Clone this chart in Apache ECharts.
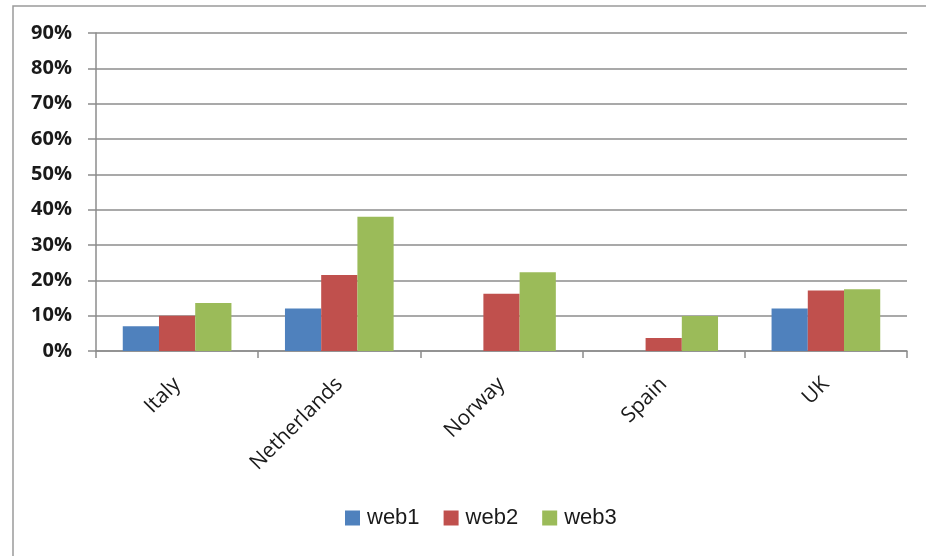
<!DOCTYPE html>
<html>
<head>
<meta charset="utf-8">
<script src="https://cdn.jsdelivr.net/npm/echarts@6/dist/echarts.min.js"></script>
<style>
  html, body { margin: 0; padding: 0; background: #fff; }
  #chart { width: 926px; height: 556px; }
</style>
</head>
<body>
<div id="chart"></div>
<script>
// Share of usage per country, in percent
const countries = ['Italy', 'Netherlands', 'Norway', 'Spain', 'UK'];
const web1 = [7.0, 12.0, 0, 0, 12.0];
const web2 = [10.0, 21.5, 16.2, 3.7, 17.1];
const web3 = [13.6, 38.0, 22.3, 9.9, 17.5];
const seriesNames = ['web1', 'web2', 'web3'];
const seriesColors = ['#4F81BD', '#C0504D', '#9BBB59'];

const chart = echarts.init(document.getElementById('chart'), null, { renderer: 'canvas' });

const values = [web1, web2, web3];

chart.setOption({
  animation: false,
  backgroundColor: '#ffffff',
  graphic: [{
    type: 'rect',
    shape: { x: 13, y: 6, width: 1000, height: 1000 },
    style: { fill: 'none', stroke: '#9a9a9a', lineWidth: 1.5 },
    silent: true
  }],
  grid: { left: 96, right: 19, top: 33, bottom: 205, containLabel: false },
  legend: {
    bottom: 22,
    left: 340,
    itemWidth: 15,
    itemHeight: 15,
    itemGap: 24,
    icon: 'rect',
    textStyle: { fontFamily: 'Liberation Sans', fontSize: 22, color: '#1a1a1a', padding: [0, 0, 0, 2] },
    data: seriesNames
  },
  xAxis: {
    type: 'category',
    data: countries,
    axisLine: { lineStyle: { color: '#8c8c8c', width: 1.5 } },
    axisTick: { show: true, length: 7, lineStyle: { color: '#8c8c8c', width: 1.5 } },
    axisLabel: {
      rotate: 45,
      margin: 30,
      fontFamily: 'Open Sans',
      fontSize: 21,
      color: '#1a1a1a'
    }
  },
  yAxis: {
    type: 'value',
    min: 0,
    max: 90,
    interval: 10,
    axisLine: { show: true, lineStyle: { color: '#8c8c8c', width: 1.5 } },
    axisTick: { show: true, length: 8, lineStyle: { color: '#8c8c8c', width: 1.5 } },
    splitLine: { lineStyle: { color: '#8c8c8c', width: 1.5 } },
    axisLabel: {
      formatter: '{value}%',
      margin: 24,
      fontFamily: 'Open Sans',
      fontWeight: 'bold',
      fontSize: 20,
      color: '#1a1a1a'
    }
  },
  series: seriesNames.map((name, i) => ({
    name: name,
    type: 'bar',
    data: values[i],
    barGap: '0%',
    barCategoryGap: '33%',
    itemStyle: { color: seriesColors[i] }
  }))
});
</script>
</body>
</html>
